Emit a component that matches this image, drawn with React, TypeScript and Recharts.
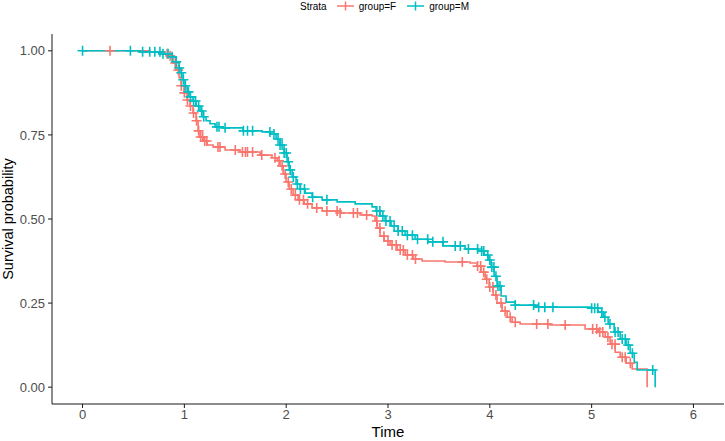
import React from 'react';
import { ComposedChart, Line, Scatter, XAxis, YAxis } from 'recharts';

// Kaplan-Meier curve, group=F (time, survival)
const femaleTime = [0, 0.663, 0.81, 0.86, 0.889, 0.918, 0.948, 0.968, 0.997, 1.027, 1.056, 1.085, 1.115, 1.135, 1.154, 1.184, 1.223, 1.282, 1.4, 1.547, 1.744, 1.861, 1.911, 1.94, 1.97, 1.999, 2.029, 2.068, 2.117, 2.176, 2.254, 2.353, 2.53, 2.726, 2.844, 2.873, 2.893, 2.922, 2.962, 3.021, 3.09, 3.168, 3.247, 3.335, 3.561, 3.806, 3.875, 3.914, 3.954, 3.993, 4.032, 4.071, 4.121, 4.17, 4.219, 4.298, 4.592, 4.936, 5.064, 5.133, 5.182, 5.231, 5.28, 5.339, 5.398, 5.545];
const femaleSurv = [1, 0.997, 0.991, 0.985, 0.964, 0.943, 0.92, 0.896, 0.875, 0.854, 0.836, 0.815, 0.792, 0.762, 0.744, 0.732, 0.72, 0.714, 0.705, 0.699, 0.69, 0.682, 0.673, 0.658, 0.634, 0.61, 0.589, 0.571, 0.557, 0.545, 0.533, 0.524, 0.518, 0.512, 0.509, 0.494, 0.473, 0.449, 0.435, 0.423, 0.408, 0.393, 0.381, 0.375, 0.372, 0.369, 0.36, 0.342, 0.321, 0.298, 0.274, 0.25, 0.226, 0.208, 0.193, 0.188, 0.185, 0.173, 0.164, 0.149, 0.128, 0.104, 0.089, 0.071, 0.054, 0];

// Kaplan-Meier curve, group=M (time, survival)
const maleTime = [0, 0.565, 0.761, 0.879, 0.918, 0.948, 0.968, 0.987, 1.007, 1.027, 1.056, 1.085, 1.115, 1.154, 1.184, 1.213, 1.252, 1.302, 1.38, 1.577, 1.763, 1.842, 1.901, 1.94, 1.979, 2.009, 2.029, 2.058, 2.097, 2.137, 2.186, 2.254, 2.353, 2.5, 2.677, 2.844, 2.883, 2.922, 2.971, 3.03, 3.099, 3.168, 3.266, 3.394, 3.541, 3.757, 3.885, 3.944, 3.983, 4.013, 4.042, 4.071, 4.111, 4.16, 4.248, 4.445, 4.985, 5.064, 5.113, 5.162, 5.221, 5.28, 5.339, 5.378, 5.418, 5.447, 5.624];
const maleSurv = [1, 0.997, 0.991, 0.982, 0.967, 0.949, 0.935, 0.914, 0.896, 0.878, 0.863, 0.851, 0.836, 0.821, 0.804, 0.792, 0.783, 0.774, 0.771, 0.762, 0.759, 0.753, 0.738, 0.72, 0.696, 0.67, 0.646, 0.625, 0.604, 0.589, 0.577, 0.565, 0.557, 0.551, 0.545, 0.536, 0.524, 0.509, 0.494, 0.479, 0.464, 0.452, 0.44, 0.432, 0.42, 0.411, 0.405, 0.393, 0.378, 0.357, 0.33, 0.301, 0.271, 0.253, 0.244, 0.238, 0.235, 0.223, 0.208, 0.188, 0.164, 0.143, 0.125, 0.101, 0.074, 0.051, 0];

// censoring times
const femaleCensor = [0.27, 0.83, 0.86, 0.91, 0.94, 0.97, 1.0, 1.03, 1.06, 1.09, 1.12, 1.14, 1.16, 1.18, 1.2, 1.22, 1.33, 1.35, 1.5, 1.57, 1.6, 1.62, 1.67, 1.76, 1.89, 1.93, 1.96, 1.99, 2.02, 2.05, 2.09, 2.13, 2.17, 2.21, 2.3, 2.4, 2.5, 2.53, 2.66, 2.7, 2.79, 2.89, 2.92, 2.96, 3.0, 3.04, 3.08, 3.12, 3.15, 3.19, 3.24, 3.27, 3.73, 3.88, 3.91, 3.94, 3.97, 4.0, 4.03, 4.06, 4.11, 4.15, 4.2, 4.25, 4.46, 4.57, 4.74, 5.01, 5.05, 5.08, 5.11, 5.16, 5.2, 5.23, 5.3, 5.33, 5.38];
const maleCensor = [0, 0.47, 0.59, 0.66, 0.71, 0.76, 0.79, 0.84, 0.88, 0.92, 0.95, 0.97, 0.99, 1.01, 1.04, 1.06, 1.09, 1.11, 1.14, 1.17, 1.19, 1.32, 1.34, 1.4, 1.58, 1.62, 1.67, 1.84, 1.88, 1.92, 1.94, 1.96, 1.98, 2.0, 2.02, 2.04, 2.07, 2.11, 2.14, 2.18, 2.26, 2.4, 2.89, 2.92, 2.95, 2.98, 3.02, 3.06, 3.1, 3.14, 3.19, 3.24, 3.29, 3.39, 3.44, 3.54, 3.66, 3.71, 3.79, 3.88, 3.92, 3.94, 3.98, 4.0, 4.02, 4.04, 4.06, 4.08, 4.1, 4.25, 4.43, 4.48, 4.54, 4.62, 5.0, 5.03, 5.06, 5.1, 5.13, 5.18, 5.23, 5.26, 5.3, 5.33, 5.36, 5.4, 5.6];

const xTicks = [0, 1, 2, 3, 4, 5, 6];
const yTicks = [0, 0.25, 0.5, 0.75, 1];

const COLOR_F = '#F8766D';
const COLOR_M = '#00BFC4';
const FONT = '"Liberation Sans", Arial, sans-serif';

const toCurve = (ts: number[], ss: number[]) => ts.map((t, i) => ({ t, s: ss[i] }));
const survAt = (ts: number[], ss: number[], t: number) => {
  let v = ss[0];
  for (let i = 0; i < ts.length; i++) {
    if (ts[i] <= t) v = ss[i];
  }
  return v;
};
const toCensor = (cs: number[], ts: number[], ss: number[]) =>
  cs.map((t) => ({ t, s: survAt(ts, ss, t) }));

const femaleCurve = toCurve(femaleTime, femaleSurv);
const maleCurve = toCurve(maleTime, maleSurv);
const femaleMarks = toCensor(femaleCensor, femaleTime, femaleSurv);
const maleMarks = toCensor(maleCensor, maleTime, maleSurv);

const plusShape = (color: string) => (props: any) => {
  const { cx, cy } = props;
  if (cx == null || cy == null) return <g />;
  const h = 5;
  return (
    <path
      d={`M${cx - h},${cy}H${cx + h}M${cx},${cy - h}V${cy + h}`}
      stroke={color}
      strokeWidth={1.6}
      fill="none"
    />
  );
};

const LegendItem = ({ color, label, ml }: { color: string; label: string; ml: number }) => (
  <span style={{ display: 'inline-flex', alignItems: 'center', marginLeft: ml }}>
    <svg width={17} height={12} style={{ marginRight: 5 }}>
      <line x1={0} y1={6} x2={17} y2={6} stroke={color} strokeWidth={1.5} />
      <line x1={8.5} y1={1.5} x2={8.5} y2={10.5} stroke={color} strokeWidth={1.5} />
    </svg>
    <span>{label}</span>
  </span>
);

export default function App() {
  return (
    <div style={{ position: 'absolute', left: 0, top: 0, width: 725, height: 441, background: '#fff' }}>
      <div
        style={{
          position: 'absolute',
          top: -1,
          left: 300,
          height: 14,
          display: 'flex',
          alignItems: 'center',
          fontFamily: FONT,
          fontSize: 10,
          color: '#000',
          whiteSpace: 'nowrap',
        }}
      >
        <span style={{ marginRight: 2 }}>Strata</span>
        <LegendItem color={COLOR_F} label="group=F" ml={8} />
        <LegendItem color={COLOR_M} label="group=M" ml={11} />
      </div>
      <ComposedChart
        width={725}
        height={441}
        margin={{ top: 34, right: 1, bottom: 0, left: 0 }}
        style={{ fontFamily: FONT }}
      >
        <XAxis
          type="number"
          dataKey="t"
          domain={[-0.3, 6.3]}
          ticks={xTicks}
          allowDataOverflow
          height={37}
          tickSize={4}
          tickMargin={2}
          tick={{ fill: '#4D4D4D', fontSize: 13 }}
          axisLine={{ stroke: '#000', strokeWidth: 0.9 }}
          tickLine={{ stroke: '#000', strokeWidth: 0.9 }}
          label={{
            content: (p: any) => {
              const vb = p.viewBox || {};
              const cx = (vb.x ?? 52) + (vb.width ?? 672) / 2;
              return (
                <text x={cx} y={437} textAnchor="middle" fontSize={15} fill="#000" fontFamily={FONT}>
                  Time
                </text>
              );
            },
          }}
        />
        <YAxis
          type="number"
          dataKey="s"
          domain={[-0.05, 1.05]}
          ticks={yTicks}
          allowDataOverflow
          width={52}
          tickSize={4}
          tickMargin={3}
          tickFormatter={(v: number) => v.toFixed(2)}
          tick={{ fill: '#4D4D4D', fontSize: 13 }}
          axisLine={{ stroke: '#000', strokeWidth: 0.9 }}
          tickLine={{ stroke: '#000', strokeWidth: 0.9 }}
          label={{
            content: (p: any) => {
              const vb = p.viewBox || {};
              const cx = 13;
              const cy = (vb.y ?? 34) + (vb.height ?? 370) / 2;
              return (
                <text
                  x={cx}
                  y={cy}
                  transform={`rotate(-90, ${cx}, ${cy})`}
                  textAnchor="middle"
                  fontSize={14.5}
                  fill="#000"
                  fontFamily={FONT}
                >
                  Survival probability
                </text>
              );
            },
          }}
        />
        <Line
          data={femaleCurve}
          dataKey="s"
          type="stepAfter"
          stroke={COLOR_F}
          strokeWidth={1.6}
          dot={false}
          activeDot={false}
          isAnimationActive={false}
        />
        <Line
          data={maleCurve}
          dataKey="s"
          type="stepAfter"
          stroke={COLOR_M}
          strokeWidth={1.6}
          dot={false}
          activeDot={false}
          isAnimationActive={false}
        />
        <Scatter data={femaleMarks} dataKey="s" shape={plusShape(COLOR_F)} isAnimationActive={false} />
        <Scatter data={maleMarks} dataKey="s" shape={plusShape(COLOR_M)} isAnimationActive={false} />
      </ComposedChart>
    </div>
  );
}
